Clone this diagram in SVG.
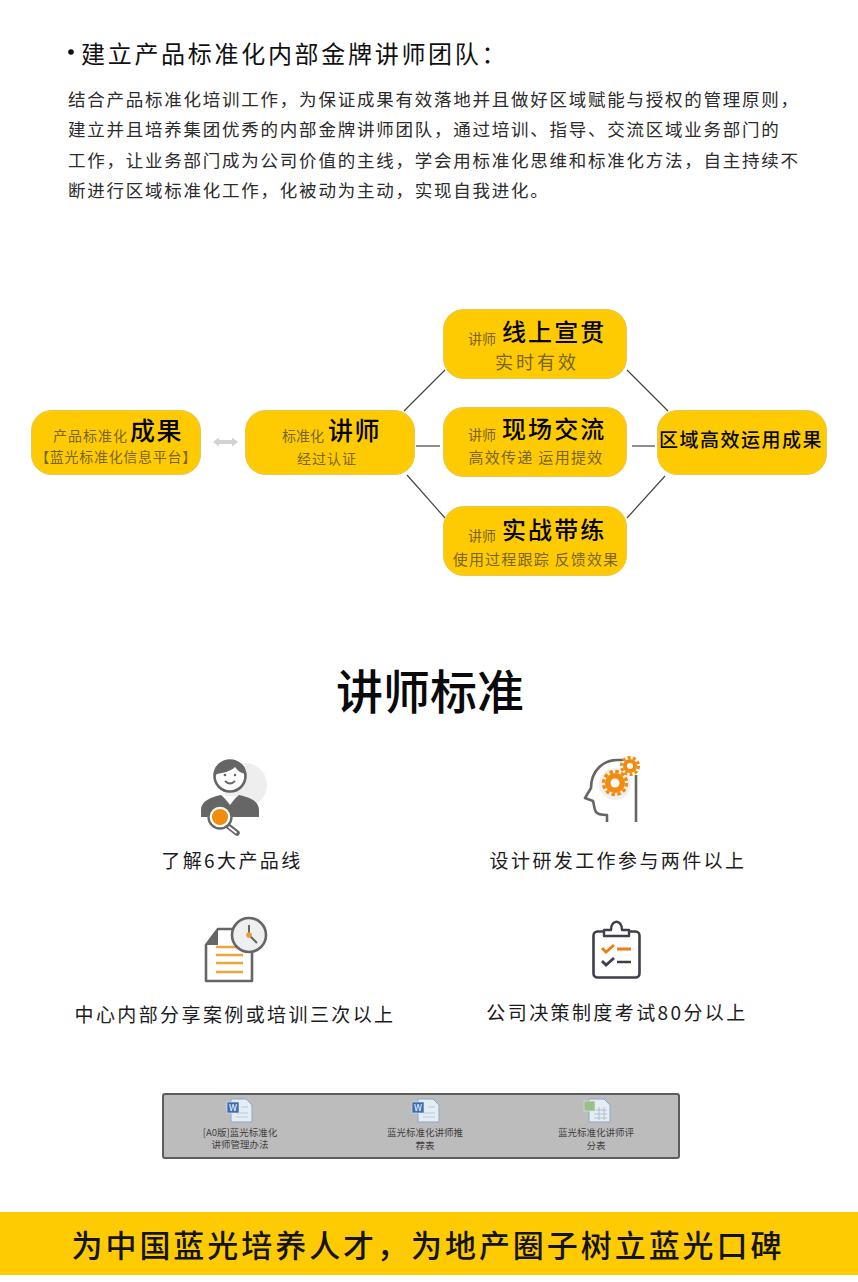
<svg xmlns="http://www.w3.org/2000/svg" width="858" height="1282" viewBox="0 0 858 1282">
<style>
text{font-family:"Noto Sans CJK SC","Liberation Sans",sans-serif}
.b{fill:#fecb02;stroke:#e6c65a;stroke-width:1}
.s{fill:#7a6520;font-size:15px}
.s14{font-size:14px}
.t{fill:#050505;font-size:24px;font-weight:500;letter-spacing:2.100px}
.p{fill:#2c2c2c;font-size:17.500px;letter-spacing:1.760px}
.c{fill:#1c1c1c;font-size:19px;letter-spacing:2.400px}
.l{stroke:#444;stroke-width:1.2;fill:none}
.m{stroke:#6a6a6a;stroke-width:1.500;fill:none}
.g{fill:#f28c0f}
.f{fill:#3f3f3f;font-size:9.500px;text-anchor:middle}
</style>
<rect width="858" height="1282" fill="#fff"/>
<circle cx="71" cy="52" r="2.800" fill="#111"/>
<text x="81" y="63" font-size="24" letter-spacing="2.700" fill="#111">建立产品标准化内部金牌讲师团队：</text>
<text class="p" x="68" y="106">结合产品标准化培训工作，为保证成果有效落地并且做好区域赋能与授权的管理原则，</text>
<text class="p" x="68" y="136">建立并且培养集团优秀的内部金牌讲师团队，通过培训、指导、交流区域业务部门的</text>
<text class="p" x="68" y="167">工作，让业务部门成为公司价值的主线，学会用标准化思维和标准化方法，自主持续不</text>
<text class="p" x="68" y="197">断进行区域标准化工作，化被动为主动，实现自我进化。</text>

<g id="connectors">
<path class="l" d="M404 411 445 370M407 475 445 518M627 370 668 411M627 518 665 476"/>
<path class="m" d="M416 446H440M632 446H655"/>
<path d="M213 442l6-4.500v2.500h13v-2.500l6 4.500-6 4.500v-2.500h-13v2.500z" fill="#d2d2d2"/>
</g>
<g id="n-result"><rect class="b" x="31.500" y="410.500" width="169" height="64" rx="20"/>
<text class="s s14" x="53" y="441" style="letter-spacing:1px">产品标准化</text><text class="t" x="130" y="440" style="font-size:25px;letter-spacing:1.500px">成果</text>
<text class="s s14" x="116" y="462" text-anchor="middle" style="letter-spacing:.7px">【蓝光标准化信息平台】</text></g>
<g id="n-teacher"><rect class="b" x="245.500" y="410.500" width="169" height="64" rx="20"/>
<text class="s s14" x="282" y="441">标准化</text><text class="t" x="328" y="440" style="font-size:25px;letter-spacing:1.500px">讲师</text>
<text class="s s14" x="327" y="464" text-anchor="middle" style="letter-spacing:1px">经过认证</text></g>
<g id="n-online"><rect class="b" x="443.500" y="309.500" width="183" height="69" rx="20"/>
<text class="s s14" x="468" y="344">讲师</text><text class="t" x="502" y="341">线上宣贯</text>
<text class="s" x="537" y="369" text-anchor="middle" style="font-size:18px;letter-spacing:3px">实时有效</text></g>
<g id="n-site"><rect class="b" x="443.500" y="407.500" width="183" height="69" rx="20"/>
<text class="s s14" x="468" y="440">讲师</text><text class="t" x="502" y="438">现场交流</text>
<text class="s" x="536" y="463" text-anchor="middle" style="letter-spacing:1.300px">高效传递 运用提效</text></g>
<g id="n-practice"><rect class="b" x="443.500" y="506.500" width="183" height="69" rx="20"/>
<text class="s s14" x="468" y="541">讲师</text><text class="t" x="502" y="539">实战带练</text>
<text class="s" x="536" y="565" text-anchor="middle" style="letter-spacing:1.200px">使用过程跟踪 反馈效果</text></g>
<g id="n-region"><rect class="b" x="657.500" y="410.500" width="169" height="64" rx="20"/>
<text x="741" y="447" text-anchor="middle" font-size="19" font-weight="500" letter-spacing="1.500" fill="#0a0a0a">区域高效运用成果</text></g>

<text x="430" y="709" text-anchor="middle" font-size="47" fill="#0a0a0a" font-weight="500">讲师标准</text>

<g id="icon-person">
<circle cx="245" cy="785" r="22" fill="#eeeeee"/>
<circle cx="230" cy="776" r="15.500" fill="#fff" stroke="#666" stroke-width="2.600"/>
<path d="M215 776c0-11 7-16 15-16s15 5 15 14c-4-1-7-3-10-7-4 4-12 6-18 7z" fill="#666"/>
<circle cx="225" cy="775" r="1.300" fill="#666"/><circle cx="235" cy="775" r="1.300" fill="#666"/>
<path d="M225 781q5 5 10 0" fill="none" stroke="#666" stroke-width="1.800"/>
<path d="M201 817v-7c0-9 10-13 20-15l9 8 9-8c10 2 20 6 20 15v7z" fill="#666"/>
<path d="M223 796h14l-7 9z" fill="#fff"/>
<path d="M228 826l9 7" stroke="#666" stroke-width="5.500" stroke-linecap="round"/><path d="M229 827l7 5.500" stroke="#fff" stroke-width="1.800" stroke-linecap="round"/>
<circle cx="220" cy="817" r="11.500" fill="#fff" stroke="#666" stroke-width="2.300"/>
<circle cx="220" cy="817" r="8" class="g"/>
</g>
<text class="c" x="232" y="868" text-anchor="middle">了解6大产品线</text>

<g id="icon-head">
<circle cx="615" cy="784" r="16" fill="#eff0f2"/>
<path d="M607 822V815c-4 0-9 0-11-3-2-3-2-8-3-11l-8-3 6-10c0-18 13-28 26-28h6M636 775v47" fill="none" stroke="#666" stroke-width="2.600" stroke-linejoin="round"/>
<circle cx="630" cy="766" r="7" class="g"/><circle cx="630" cy="766" r="8.500" fill="none" stroke="#f28c0f" stroke-width="3.200" stroke-dasharray="3 2.340"/><circle cx="630" cy="766" r="3" fill="#fff"/>
<circle cx="615" cy="783" r="10" class="g"/><circle cx="615" cy="783" r="11.500" fill="none" stroke="#f28c0f" stroke-width="3.500" stroke-dasharray="3.500 2.520"/><circle cx="615" cy="783" r="4.500" fill="#fff"/>
</g>
<text class="c" x="618" y="868" text-anchor="middle">设计研发工作参与两件以上</text>

<g id="icon-doc">
<path d="M206 945l12-16h34v52h-46z" fill="#fff" stroke="#666" stroke-width="2.600" stroke-linejoin="round"/>
<path d="M206 945l12-16v16z" fill="#666"/>
<path d="M216 947h27M216 955h27M216 963h27M216 972h27" stroke="#eaa53b" stroke-width="2.300"/>
<circle cx="249" cy="935" r="17" fill="#eeeff1" stroke="#666" stroke-width="2.600"/>
<path d="M249 925v10l8 8" fill="none" stroke="#666" stroke-width="2"/><circle cx="249" cy="935" r="2.800" fill="#f0982a"/>
</g>
<text class="c" x="235" y="1022" text-anchor="middle">中心内部分享案例或培训三次以上</text>

<g id="icon-check">
<rect x="593.500" y="931.500" width="46" height="46" rx="4" fill="none" stroke="#3f3f4c" stroke-width="2.600"/>
<path d="M604 936v-6h7c0-11 11-11 11 0h7v6z" fill="#fff" stroke="#3f3f4c" stroke-width="2.400" stroke-linejoin="round"/>
<path d="M602 948l4 4 8-7" fill="none" stroke="#ee7d11" stroke-width="2.800"/><path d="M617 949h14" stroke="#ee7d11" stroke-width="3"/>
<path d="M602 961l4 4 8-7" fill="none" stroke="#3f3f4c" stroke-width="2.800"/><path d="M617 962h14" stroke="#3f3f4c" stroke-width="2.500"/>
</g>
<text class="c" x="617" y="1020" text-anchor="middle">公司决策制度考试80分以上</text>

<g id="files">
<rect x="163" y="1094" width="516" height="64" rx="2" fill="#bdbcbc" stroke="#5d5d5d" stroke-width="2"/>
<g id="file-1"><path d="M231 1099h15l6 6v17h-21z" fill="#e4ecf4" stroke="#8aa9c4"/><path d="M241 1107h7M236 1113h12M236 1117h12" stroke="#b9c9d8"/><rect x="227" y="1102" width="12" height="11" fill="#3b6db5" stroke="#dfe7ef" stroke-width=".6"/><text x="233" y="1111" font-size="9" fill="#fff" text-anchor="middle">W</text>
<text class="f" x="240" y="1136">[A0版]蓝光标准化</text><text class="f" x="240" y="1148">讲师管理办法</text></g>
<g id="file-2"><path d="M418 1099h15l6 6v17h-21z" fill="#e4ecf4" stroke="#8aa9c4"/><path d="M428 1107h7M423 1113h12M423 1117h12" stroke="#b9c9d8"/><rect x="412" y="1102" width="12" height="11" fill="#3b6db5" stroke="#dfe7ef" stroke-width=".6"/><text x="418" y="1111" font-size="9" fill="#fff" text-anchor="middle">W</text>
<text class="f" x="425" y="1136">蓝光标准化讲师推</text><text class="f" x="425" y="1149">荐表</text></g>
<g id="file-3"><path d="M589 1099h15l6 6v17h-21z" fill="#e4ecf4" stroke="#8aa9c4"/><path d="M594 1110h13M594 1114h13M594 1118h13M599 1107v13M604 1107v13" stroke="#a5b7c8" stroke-width=".8"/><rect x="584" y="1101" width="11" height="10" fill="#9ac088" stroke="#dfe7ef" stroke-width=".6"/>
<text class="f" x="596" y="1136">蓝光标准化讲师评</text><text class="f" x="596" y="1149">分表</text></g>
</g>
<rect id="banner" x="0" y="1212" width="858" height="63" fill="#fecb02"/>
<text x="428" y="1257" text-anchor="middle" font-size="31" font-weight="500" letter-spacing="2.950" fill="#141414">为中国蓝光培养人才，为地产圈子树立蓝光口碑</text>
</svg>
